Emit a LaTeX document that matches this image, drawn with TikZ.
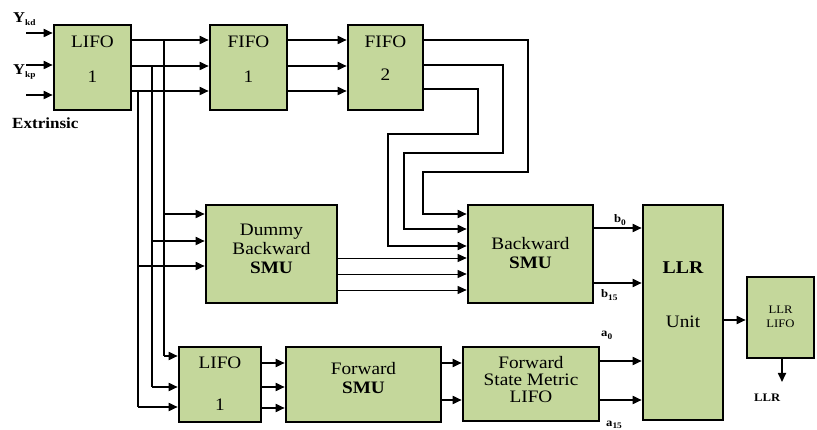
\documentclass[tikz,border=0pt]{standalone}
\usepackage{fontspec}
\setmainfont[FakeStretch=1.1]{Liberation Serif}
\usetikzlibrary{arrows.meta,calc}
\definecolor{boxgreen}{RGB}{196,215,155}
\newcommand{\subtxt}[1]{\raisebox{-2.5pt}{\fontsize{8.5}{9}\selectfont\bfseries #1}}
\begin{document}
\begin{tikzpicture}[x=1pt,y=-1pt,
  blk/.style={draw=black,line width=2.6pt,fill=boxgreen,inner sep=0pt},
  wire/.style={line width=1.7pt},
  arr/.style={wire,-{Triangle[length=9pt,width=8pt]}},
  thinarr/.style={line width=0.8pt,-{Triangle[length=9pt,width=8pt]}},
  txt/.style={inner sep=0pt,font=\fontsize{17.5}{19}\selectfont,align=center},
  smalltxt/.style={inner sep=0pt,font=\fontsize{11.5}{14}\selectfont,align=center},
  lbl/.style={inner sep=0pt,anchor=base west,font=\bfseries\fontsize{11.5}{12}\selectfont}]
\useasboundingbox (0,0) rectangle (817,430);

% ---- boxes ----
\node[blk,minimum width=77pt,minimum height=85pt] (lifoA) at (92.5,67.5) {};
\node[blk,minimum width=77pt,minimum height=85pt] (fifoA) at (248.5,67.5) {};
\node[blk,minimum width=75pt,minimum height=85pt] (fifoB) at (385.5,67.5) {};
\node[blk,minimum width=131pt,minimum height=98pt] (dummy) at (271.5,254) {};
\node[blk,minimum width=125pt,minimum height=98pt] (back) at (530.5,254) {};
\node[blk,minimum width=80pt,minimum height=215pt] (llr) at (683,312.5) {};
\node[blk,minimum width=67pt,minimum height=81pt] (llrlifo) at (780.5,317.5) {};
\node[blk,minimum width=82pt,minimum height=75pt] (lifoB) at (220,384.5) {};
\node[blk,minimum width=155pt,minimum height=75pt] (fwd) at (363.5,384.5) {};
\node[blk,minimum width=136pt,minimum height=74pt] (fsm) at (531,384) {};

% ---- box texts ----
\node[txt] (lifoAa) at (92.5,41.5) {LIFO};
\node[txt] (lifoAb) at (92.5,77) {1};
\node[txt] (fifoAa) at (248.5,41.5) {FIFO};
\node[txt] (fifoAb) at (248.5,77) {1};
\node[txt] (fifoBa) at (385.5,41.5) {FIFO};
\node[txt] (fifoBb) at (385.5,75) {2};
\node[txt] (dummyt) at (271.5,249) {Dummy\\Backward\\\textbf{SMU}};
\node[txt] (backt) at (530.5,253) {Backward\\\textbf{SMU}};
\node[txt] (lifoBa) at (220,362.5) {LIFO};
\node[txt] (lifoBb) at (220,405) {1};
\node[txt] (fwdt) at (363.5,378) {Forward\\\textbf{SMU}};
\node[txt,font=\fontsize{17.5}{17}\selectfont] (fsmt) at (531,379.5) {Forward\\State Metric\\LIFO};
\node[txt,font=\bfseries\fontsize{18}{20}\selectfont] (llra) at (683,267.5) {LLR};
\node[txt] (llrb) at (683,322) {Unit};
\node[smalltxt] (llrlifot) at (780.5,317) {LLR\\LIFO};

% ---- labels ----
\node[lbl,font=\bfseries\fontsize{15}{15}\selectfont] (ykd) at (13,23) {Y\subtxt{kd}};
\node[lbl,font=\bfseries\fontsize{15}{15}\selectfont] (ykp) at (13,75) {Y\subtxt{kp}};
\node[lbl,font=\bfseries\fontsize{15.5}{16}\selectfont] (extr) at (12,128.5) {Extrinsic};
\node[lbl] (lb0) at (614,223) {b\subtxt{0}};
\node[lbl] (lb15) at (601,298) {b\subtxt{15}};
\node[lbl] (la0) at (601,337) {a\subtxt{0}};
\node[lbl] (la15) at (606,426) {a\subtxt{15}};
\node[lbl] (llrout) at (754,402) {LLR};

% ---- coordinates for free ends ----
\coordinate (in1) at (26,33);
\coordinate (in2) at (26,65);
\coordinate (in3) at (26,95);
\coordinate (llrend) at (782,382);

% ---- inputs ----
\draw[arr] (in1) -- (lifoA.west |- in1);
\draw[arr] (in2) -- (lifoA.west |- in2);
\draw[arr] (in3) -- (lifoA.west |- in3);

% ---- LIFO1 -> FIFO1 -> FIFO2 ----
\foreach \yy in {40,66,91}{
  \draw[arr] (lifoA.east |- 0,\yy) -- (fifoA.west |- 0,\yy);
  \draw[arr] (fifoA.east |- 0,\yy) -- (fifoB.west |- 0,\yy);
}

% ---- taps from LIFO1 to Dummy and lower LIFO ----
\draw[wire] (164,40) -- (164,356);
\draw[wire] (152,66) -- (152,387);
\draw[wire] (138,91) -- (138,407);
\draw[arr] (164,214) -- (dummy.west |- 0,214);
\draw[arr] (152,241) -- (dummy.west |- 0,241);
\draw[arr] (138,266) -- (dummy.west |- 0,266);
\draw[arr] (164,356) -- (lifoB.west |- 0,356);
\draw[arr] (152,387) -- (lifoB.west |- 0,387);
\draw[arr] (138,407) -- (lifoB.west |- 0,407);

% ---- FIFO2 -> Backward SMU ----
\draw[arr] (fifoB.east |- 0,40) -- (528,40) -- (528,172) -- (423,172) -- (423,214) -- (back.west |- 0,214);
\draw[arr] (fifoB.east |- 0,65) -- (503,65) -- (503,153) -- (404,153) -- (404,229) -- (back.west |- 0,229);
\draw[arr] (fifoB.east |- 0,89) -- (478,89) -- (478,134) -- (388,134) -- (388,246) -- (back.west |- 0,246);

% ---- Dummy -> Backward ----
\draw[thinarr] (dummy.east |- 0,258) -- (back.west |- 0,258);
\draw[thinarr] (dummy.east |- 0,274) -- (back.west |- 0,274);
\draw[thinarr] (dummy.east |- 0,290) -- (back.west |- 0,290);

% ---- Backward -> LLR ----
\draw[arr] (back.east |- 0,228) -- (llr.west |- 0,228);
\draw[arr] (back.east |- 0,283) -- (llr.west |- 0,283);

% ---- lower chain ----
\draw[arr] (lifoB.east |- 0,363) -- (fwd.west |- 0,363);
\draw[arr] (lifoB.east |- 0,387) -- (fwd.west |- 0,387);
\draw[arr] (lifoB.east |- 0,408) -- (fwd.west |- 0,408);
\draw[arr] (fwd.east |- 0,363) -- (fsm.west |- 0,363);
\draw[arr] (fwd.east |- 0,400) -- (fsm.west |- 0,400);
\draw[arr] (fsm.east |- 0,361) -- (llr.west |- 0,361);
\draw[arr] (fsm.east |- 0,400) -- (llr.west |- 0,400);

% ---- LLR -> LLR LIFO -> out ----
\draw[arr] (llr.east |- 0,320) -- (llrlifo.west |- 0,320);
\draw[arr] (llrlifo.south -| llrend) -- (llrend);
\end{tikzpicture}
\end{document}
